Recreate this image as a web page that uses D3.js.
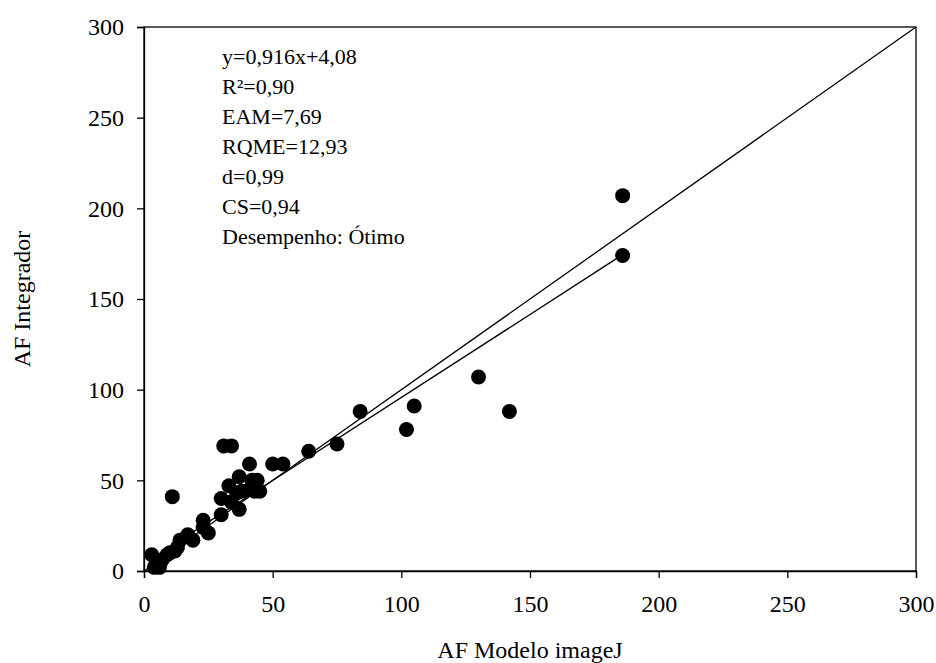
<!DOCTYPE html>
<html>
<head>
<meta charset="utf-8">
<script src="https://cdn.jsdelivr.net/npm/d3@7"></script>
<style>
  body { margin: 0; background: #fff; }
  text { font-family: "Liberation Serif", "Times New Roman", serif; fill: #000; }
</style>
</head>
<body>
<svg id="chart"></svg>
<script>
// observed pairs: AF Modelo imageJ (x) vs AF Integrador (y)
const xVals = [3, 4, 6, 7, 9, 10, 12, 13, 14, 17, 19, 23, 23, 25, 30, 30, 31, 34, 11,
  33, 34, 36, 37, 37, 38, 41, 41, 42, 43, 44, 45, 50, 54, 64, 75, 84, 102, 105, 130, 142, 186, 186];
const yVals = [9, 2, 2, 6, 9, 10, 11, 13, 17, 20, 17, 24, 28, 21, 31, 40, 69, 69, 41,
  47, 38, 43, 34, 52, 44, 59, 45, 50, 44, 50, 44, 59, 59, 66, 70, 88, 78, 91, 107, 88, 207, 174];

const xTicks = [0, 50, 100, 150, 200, 250, 300];
const yTicks = [0, 50, 100, 150, 200, 250, 300];

const slope = 0.916, intercept = 4.08;
const statLines = ["y=0,916x+4,08", "R²=0,90", "EAM=7,69", "RQME=12,93", "d=0,99", "CS=0,94", "Desempenho: Ótimo"];

const width = 936, height = 663;
const margin = { top: 27, right: 20, bottom: 92, left: 144 };

const svg = d3.select('#chart')
    .attr('width', width)
    .attr('height', height);

const x = d3.scaleLinear().domain([0, 300]).range([margin.left, 916]);
const y = d3.scaleLinear().domain([0, 300]).range([571, margin.top]);

// frame
svg.append('rect')
    .attr('x', x(0)).attr('y', y(300))
    .attr('width', x(300) - x(0)).attr('height', y(0) - y(300))
    .attr('fill', 'none').attr('stroke', '#000').attr('stroke-width', 1.3);

const xAxis = svg.append('g')
    .attr('transform', 'translate(0,' + y(0) + ')')
    .call(d3.axisBottom(x).tickValues(xTicks).tickSize(7).tickPadding(17));

const yAxis = svg.append('g')
    .attr('transform', 'translate(' + x(0) + ',0)')
    .call(d3.axisLeft(y).tickValues(yTicks).tickSize(7).tickPadding(13));

[xAxis, yAxis].forEach(a => {
  a.select('.domain').attr('stroke-width', 1.3);
  a.selectAll('.tick line').attr('stroke-width', 1.3);
  a.selectAll('text').style('font-size', '24px').style('font-family', '"Liberation Serif", serif');
});

// 1:1 line
svg.append('line')
    .attr('x1', x(0)).attr('y1', y(0))
    .attr('x2', x(300)).attr('y2', y(300))
    .attr('stroke', '#000').attr('stroke-width', 1.3);

// regression line
const xMin = d3.min(xVals), xMax = d3.max(xVals);
svg.append('line')
    .attr('x1', x(xMin)).attr('y1', y(slope * xMin + intercept))
    .attr('x2', x(xMax)).attr('y2', y(slope * xMax + intercept))
    .attr('stroke', '#000').attr('stroke-width', 1.3);

svg.append('g').selectAll('circle')
  .data(xVals.map((v, i) => [v, yVals[i]]))
  .enter().append('circle')
    .attr('cx', d => x(d[0]))
    .attr('cy', d => y(d[1]))
    .attr('r', 7.5)
    .attr('fill', '#000');

svg.append('g').selectAll('text')
  .data(statLines)
  .enter().append('text')
    .attr('x', 222)
    .attr('y', (d, i) => 64 + i * 30)
    .style('font-size', '22px')
    .text(d => d);

svg.append('text')
    .attr('x', (x(0) + x(300)) / 2)
    .attr('y', 658)
    .attr('text-anchor', 'middle')
    .style('font-size', '24px')
    .text('AF Modelo imageJ');

svg.append('text')
    .attr('transform', 'translate(30,' + (y(150)) + ') rotate(-90)')
    .attr('text-anchor', 'middle')
    .style('font-size', '24px')
    .text('AF Integrador');
</script>
</body>
</html>
